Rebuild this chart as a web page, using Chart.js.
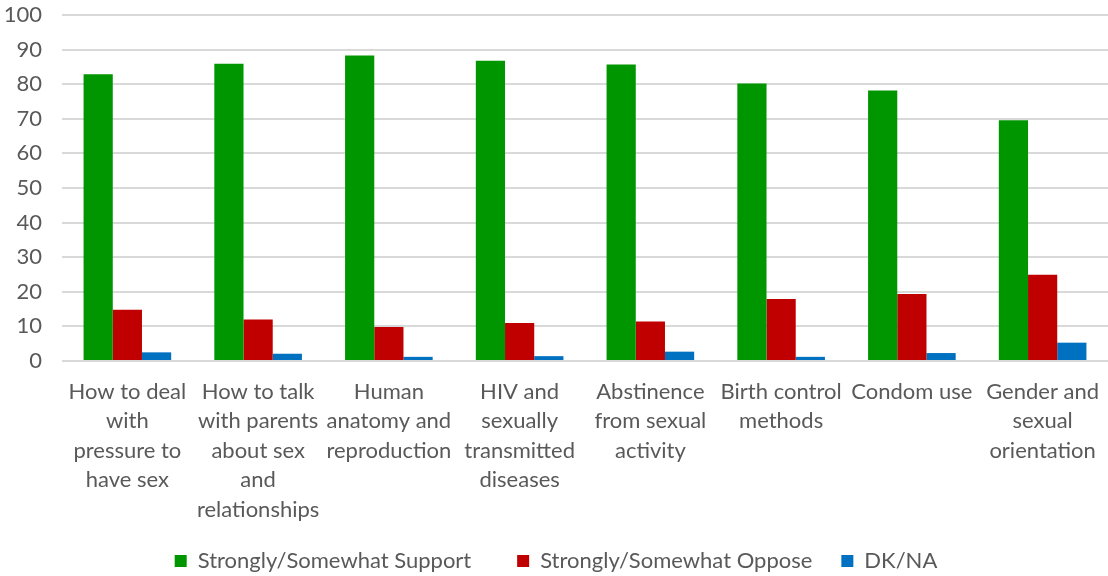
<!DOCTYPE html>
<html>
<head>
<meta charset="utf-8">
<script src="https://cdn.jsdelivr.net/npm/chart.js@4/dist/chart.umd.min.js"></script>
<style>
  html, body { margin: 0; padding: 0; background: #fff; }
  #wrap { width: 1108px; height: 576px; }
</style>
</head>
<body>
<div id="wrap"><canvas id="chart"></canvas></div>
<script>
const categories = [
    ['How to deal', 'with', 'pressure to', 'have sex'],
    ['How to talk', 'with parents', 'about sex', 'and', 'relationships'],
    ['Human', 'anatomy and', 'reproduction'],
    ['HIV and', 'sexually', 'transmitted', 'diseases'],
    ['Abstinence', 'from sexual', 'activity'],
    ['Birth control', 'methods'],
    ['Condom use'],
    ['Gender and', 'sexual', 'orientation']
];
const seriesNames = ['Strongly/Somewhat Support', 'Strongly/Somewhat Oppose', 'DK/NA'];
const support = [82.9, 85.9, 88.3, 86.8, 85.7, 80.2, 78.2, 69.6];
const oppose = [14.8, 12.0, 9.8, 11.0, 11.4, 17.9, 19.4, 24.9];
const dkna = [2.5, 2.1, 1.2, 1.4, 2.7, 1.2, 2.3, 5.3];
const yTicks = [0, 10, 20, 30, 40, 50, 60, 70, 80, 90, 100];

const font = 'Lato, "Open Sans", sans-serif';
const textColor = '#595959';

const ctx = document.getElementById('chart').getContext('2d');
new Chart(ctx, {
    type: 'bar',
    data: {
        labels: categories,
        datasets: [
            { label: seriesNames[0], data: support, backgroundColor: '#009600' },
            { label: seriesNames[1], data: oppose, backgroundColor: '#C00000' },
            { label: seriesNames[2], data: dkna, backgroundColor: '#0070C0' }
        ]
    },
    options: {
        responsive: true,
        maintainAspectRatio: false,
        animation: false,
        layout: { padding: { top: 15, right: 0, bottom: -6, left: 4 } },
        datasets: { bar: { categoryPercentage: 0.67, barPercentage: 1.0 } },
        plugins: {
            legend: {
                position: 'bottom',
                labels: {
                    color: textColor,
                    font: { family: font, size: 22 },
                    boxWidth: 12,
                    boxHeight: 12,
                    padding: 29,
                    // a little more room after the first entry, like the original
                    generateLabels: chart => {
                        const items = Chart.defaults.plugins.legend.labels.generateLabels(chart);
                        items[0].text = items[0].text + '   ';
                        return items;
                    }
                }
            },
            tooltip: { enabled: false }
        },
        scales: {
            x: {
                grid: { display: false },
                border: { display: false },
                ticks: {
                    color: textColor,
                    font: { family: font, size: 22, lineHeight: 1.34 },
                    maxRotation: 0,
                    autoSkip: false,
                    padding: 8
                },
                afterFit: scale => {
                    scale.height = 160;
                    scale.paddingLeft = 0;
                    scale.paddingRight = 0;
                }
            },
            y: {
                min: 0,
                max: 100,
                afterBuildTicks: axis => { axis.ticks = yTicks.map(v => ({ value: v })); },
                grid: { color: '#d9d9d9', lineWidth: 2, drawTicks: false },
                border: { display: false },
                ticks: {
                    color: textColor,
                    font: { family: font, size: 22 },
                    padding: 20
                },
                afterFit: scale => {
                    scale.width = 58;
                    scale.paddingTop = 0;
                    scale.paddingBottom = 0;
                }
            }
        }
    }
});
</script>
</body>
</html>
